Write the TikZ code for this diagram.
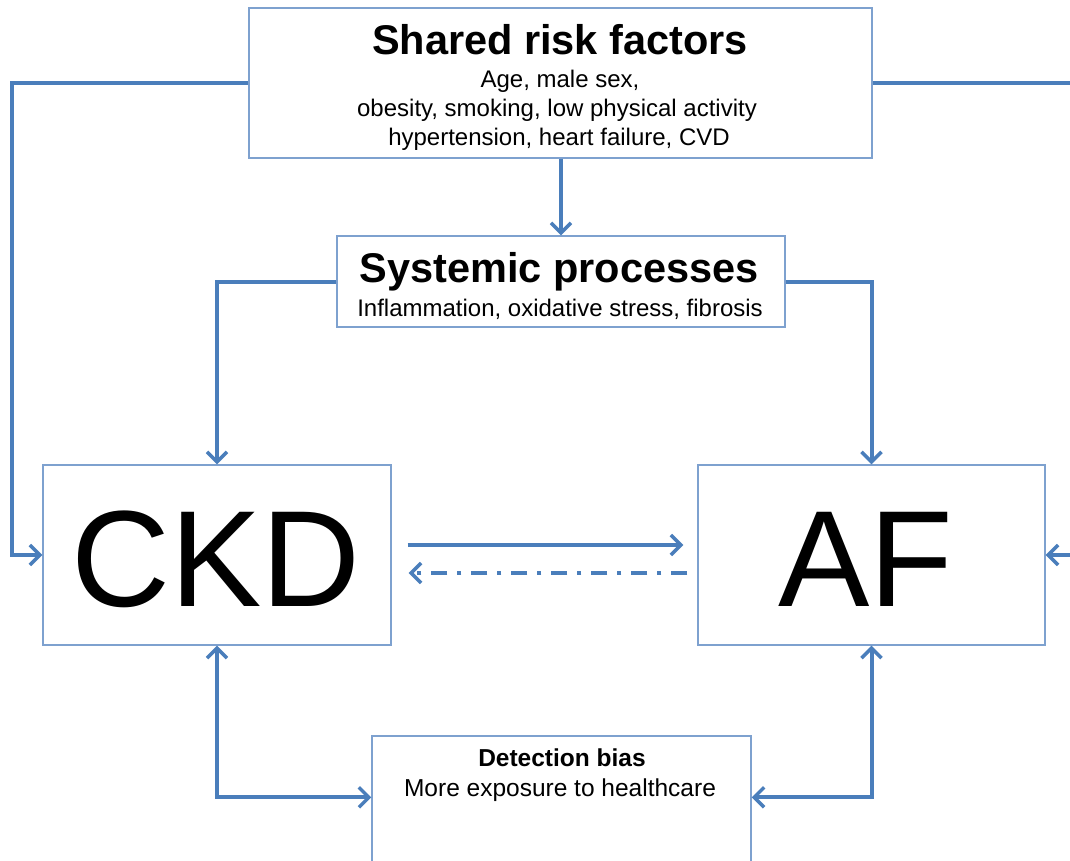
\documentclass[tikz,border=0pt]{standalone}
\usepackage{fontspec}
\setmainfont{Liberation Sans}
\usetikzlibrary{arrows.meta, calc}
\definecolor{lcolor}{HTML}{4A7EBB}
\definecolor{bcolor}{HTML}{7EA1CF}

\begin{document}
\begin{tikzpicture}[x=1pt, y=-1pt,
    box/.style={rectangle, draw=bcolor, line width=1.3pt, fill=white, inner sep=0pt},
    arr/.style={-{Straight Barb[length=10pt, width=20pt, line width=3.5pt]}, draw=lcolor, line width=4pt},
    barr/.style={{Straight Barb[length=10pt, width=20pt, line width=3.5pt]}-{Straight Barb[length=10pt, width=20pt, line width=3.5pt]}, draw=lcolor, line width=4pt},
    ttl/.style={font=\fontsize{41.5}{45}\selectfont\bfseries, anchor=base},
    txt/.style={font=\fontsize{24}{28}\selectfont, anchor=base},
  ]
    \path[use as bounding box, clip] (0,0) rectangle (1070,861);

    % Boxes
    \node[box, minimum width=623pt, minimum height=150pt] (risk) at (560.5,83) {};
    \node[box, minimum width=448pt, minimum height=91pt] (sys) at (561,281.5) {};
    \node[box, minimum width=348pt, minimum height=180pt] (ckd) at (217,555) {};
    \node[box, minimum width=347pt, minimum height=180pt] (af) at (871.5,555) {};
    \node[box, minimum width=379pt, minimum height=200pt] (det) at (561.5,836) {};

    % Texts
    \node[ttl] (risktitle) at (560,55) {Shared risk factors};
    \node[txt] (risk1) at (560,88) {Age, male sex,};
    \node[txt] (risk2) at (557,117) {obesity, smoking, low physical activity};
    \node[txt] (risk3) at (559,146) {hypertension, heart failure, CVD};
    \node[ttl] (systitle) at (559,282) {Systemic processes};
    \node[txt] (sys1) at (560,316) {Inflammation, oxidative stress, fibrosis};
    \node[font=\fontsize{137}{144}\selectfont, anchor=base] (ckdlbl) at (216,606) {CKD};
    \node[font=\fontsize{137}{144}\selectfont, anchor=base] (aflbl) at (866,606) {AF};
    \node[font=\fontsize{24.5}{28}\selectfont\bfseries, anchor=base] (dettitle) at (562,766) {Detection bias};
    \node[font=\fontsize{24.5}{28}\selectfont, anchor=base] (det1) at (560,796) {More exposure to healthcare};

    % Arrows
    \draw[arr] (risk.west) -- ++(-236,0) |- (ckd.west);
    \draw[arr] (risk.east) -- ++(210,0) |- (af.east);
    \draw[arr] (sys.north |- risk.south) -- (sys.north);
    \draw[arr] (sys.west) -| (ckd.north);
    \draw[arr] (sys.east) -| (af.north);
    \draw[arr] ($(ckd.east)+(16,-10)$) -- ($(af.west)+(-14,-10)$);
    \draw[arr, dash pattern=on 16pt off 10pt on 4pt off 10pt] ($(af.west)+(-10,18)$) -- ($(ckd.east)+(17,18)$);
    \draw[barr] (ckd.south) |- ($(det.north west)+(0,62)$);
    \draw[barr] (af.south) |- ($(det.north east)+(0,62)$);
  \end{tikzpicture}
\end{document}
